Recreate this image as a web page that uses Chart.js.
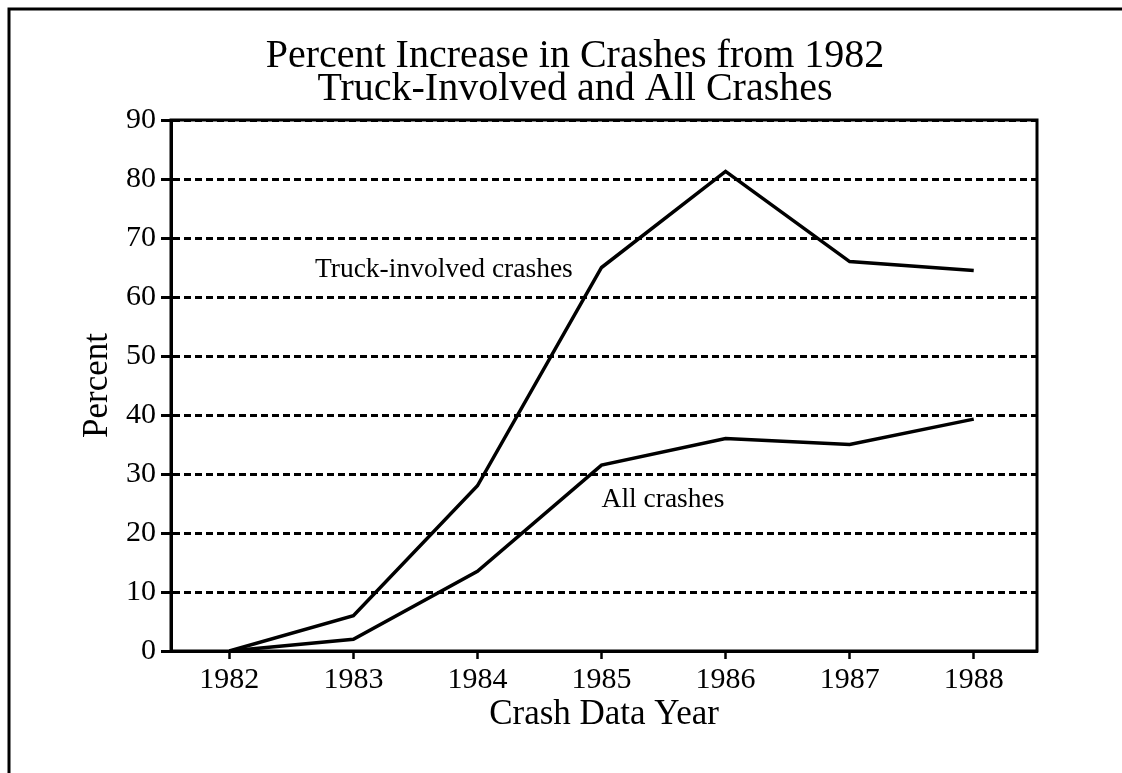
<!DOCTYPE html>
<html>
<head>
<meta charset="utf-8">
<title>Percent Increase in Crashes from 1982</title>
<script src="https://cdn.jsdelivr.net/npm/chart.js@4"></script>
<style>
    html, body { margin: 0; padding: 0; background: #fff; }
</style>
</head>
<body>
<canvas id="myChart" width="1122" height="773"></canvas>
<script>
    // data
    let years = [1982, 1983, 1984, 1985, 1986, 1987, 1988];
    let truckCrashes = [0, 6, 28, 65, 81.3, 66, 64.5];
    let allCrashes = [0, 2, 13.5, 31.5, 36, 35, 39.3];
    let yTicks = [0, 10, 20, 30, 40, 50, 60, 70, 80, 90];

    let titleLines = ['Percent Increase in Crashes from 1982', 'Truck-Involved and All Crashes'];
    let seriesNames = ['Truck-involved crashes', 'All crashes'];
    // where each series name sits, in data units (year, percent)
    let nameAnchors = [[1982.69, 63.4], [1985.0, 24.4]];

    Chart.defaults.font.family = "'Liberation Serif', 'Times New Roman', serif";
    Chart.defaults.color = '#000';

    let ctx = document.getElementById("myChart");

    // title, frame and series names drawn straight on the canvas
    let paperPlugin = {
        id : 'paper',
        afterDraw(chart) {
            let c = chart.ctx;
            let a = chart.chartArea;
            c.save();
            c.strokeStyle = '#000';
            c.fillStyle = '#000';
            c.lineWidth = 3;
            c.strokeRect(a.left, a.top, a.right - a.left, a.bottom - a.top);
            // page frame (top and left edge)
            c.beginPath();
            c.moveTo(9, 773);
            c.lineTo(9, 9);
            c.lineTo(1122, 9);
            c.stroke();

            c.font = "40px 'Liberation Serif'";
            c.textAlign = 'center';
            c.textBaseline = 'alphabetic';
            c.fillText(titleLines[0], 575, 67);
            c.fillText(titleLines[1], 575, 100);

            c.font = "27.5px 'Liberation Serif'";
            c.textAlign = 'left';
            let xs = chart.scales.x;
            let ys = chart.scales.y;
            seriesNames.forEach((name, i) => {
                c.fillText(name, xs.getPixelForValue(nameAnchors[i][0]), ys.getPixelForValue(nameAnchors[i][1]));
            });
            c.restore();
        }
    };

    let config = {
        type : 'line',
        data : {
            datasets : [
                {
                    label : seriesNames[0],
                    data : years.map((y, i) => ({ x : y, y : truckCrashes[i] })),
                    borderColor : '#000',
                    borderWidth : 3.5,
                    pointRadius : 0,
                    tension : 0,
                },
                {
                    label : seriesNames[1],
                    data : years.map((y, i) => ({ x : y, y : allCrashes[i] })),
                    borderColor : '#000',
                    borderWidth : 3.5,
                    pointRadius : 0,
                    tension : 0,
                }
            ],
        },
        options : {
            responsive : false,
            animation : false,
            devicePixelRatio : 1,
            layout : {
                padding : { top : 120, left : 0, right : 85, bottom : 0 }
            },
            plugins : {
                legend : { display : false },
                tooltip : { enabled : false },
                title : { display : false },
            },
            scales : {
                x : {
                    type : 'linear',
                    min : 1981.53,
                    max : 1988.51,
                    afterBuildTicks : s => { s.ticks = years.map(v => ({ value : v })); },
                    afterFit : s => { s.height = 122; },
                    grid : {
                        drawOnChartArea : false,
                        tickLength : 8,
                        tickWidth : 2.5,
                        tickColor : '#000',
                    },
                    border : { color : '#000', width : 3 },
                    ticks : {
                        font : { size : 30 },
                        padding : 3,
                        maxRotation : 0,
                        callback : v => String(v),
                    },
                    title : {
                        display : true,
                        text : 'Crash Data Year',
                        font : { size : 35, lineHeight : 1 },
                        padding : 41,
                    }
                },
                y : {
                    min : 0,
                    max : 90,
                    afterBuildTicks : s => { s.ticks = yTicks.map(v => ({ value : v })); },
                    afterFit : s => { s.width = 171; },
                    grid : {
                        color : '#000',
                        lineWidth : 3,
                        tickLength : 10,
                        tickWidth : 3,
                        tickColor : '#000',
                    },
                    border : { color : '#000', width : 3, dash : [7, 4] },
                    ticks : {
                        font : { size : 30 },
                        padding : 5,
                    },
                    title : {
                        display : true,
                        text : 'Percent',
                        font : { size : 35, lineHeight : 1 },
                        padding : 80,
                    }
                }
            }
        },
        plugins : [paperPlugin]
    };

    let myChart = new Chart(ctx, config);
</script>
</body>
</html>
